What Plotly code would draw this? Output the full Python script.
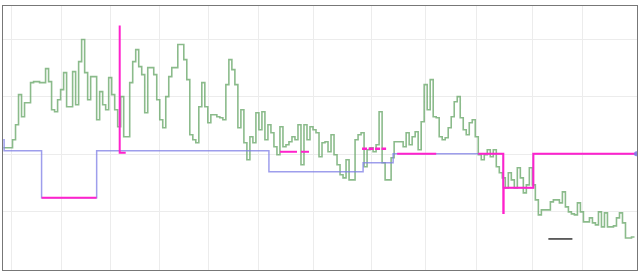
import plotly.graph_objects as go

# Green stepped series (one value per sample index)
green_values = [
    64, 64, 64, 72, 87, 117, 95, 109, 109, 129,
    130, 130, 129, 129, 143, 130, 102, 100, 112, 122,
    139, 105, 105, 140, 107, 150, 172, 139, 112, 135,
    135, 92, 120, 107, 102, 134, 117, 102, 85, 115,
    75, 75, 129, 150, 162, 145, 137, 99, 144, 144,
    137, 112, 92, 84, 115, 135, 144, 144, 167, 167,
    152, 132, 77, 72, 69, 105, 129, 105, 89, 97,
    97, 95, 94, 92, 127, 152, 142, 127, 84, 102,
    69, 52, 75, 69, 99, 82, 100, 72, 87, 79,
    65, 57, 85, 65, 67, 70, 75, 72, 87, 47,
    87, 72, 85, 82, 79, 55, 69, 70, 60, 77,
    57, 47, 37, 34, 52, 32, 32, 72, 77, 79,
    45, 62, 64, 60, 67, 100, 49, 32, 32, 54,
    70, 70, 70, 65, 79, 67, 75, 80, 62, 90,
    127, 102, 132, 95, 94, 75, 72, 74, 84, 95,
    110, 115, 94, 82, 77, 89, 92, 75, 57, 52,
    57, 62, 55, 62, 45, 39, 34, 24, 39, 32,
    24, 44, 34, 19, 27, 44, 27, 12, -3, 2,
    2, 2, 10, 12, 12, 9, 20, 5, 0, -2,
    -3, 9, 0, -10, -10, -6, -11, -13, 0, -15,
    -1, -15, -15, -14, -6, -1, -11, -26, -26, -25,
    -25,
]
green_x = list(range(len(green_values)))

# Blue level line (step breakpoints)
blue_x = [-0.1, 0.2, 12.67, 31.0, 88.33, 119.67, 129.67, 166.33, 176.33, 210.67]
blue_values = [72, 61, 14, 61, 40, 49, 58, 24, 58, 58]

# Magenta highlighted segments (None separates segments)
magenta_x = [12.67, 31.0, None,
             38.67, 38.67, 40.67, None,
             92.0, 97.67, None,
             99.0, 101.67, None,
             131.0, 144.0, None,
             158.0, 166.33, 166.45, 176.33, 210.67]
magenta_values = [14, 14, None,
                  186, 59, 59, None,
                  60, 60, None,
                  60, 60, None,
                  58, 58, None,
                  58, -1, 24, 58, 58]

# Dotted magenta segment
magenta_dot_x = [119.33, 127.33]
magenta_dot_values = [63, 63]

# Short dark reference segment
black_x = [181.33, 189.33]
black_values = [-27, -27]

x_grid = [2.67, 19.33, 35.67, 52.0, 68.33, 85.0, 103.33, 122.33, 140.5, 157.33, 176.0, 192.67]
y_grid = [0, 57.5, 115, 172.5]

fig = go.Figure()
fig.add_trace(go.Scatter(
    x=green_x, y=green_values, mode="lines", line_shape="hv",
    line=dict(color="rgba(110,170,110,0.8)", width=1.6), hoverinfo="skip"))
fig.add_trace(go.Scatter(
    x=blue_x, y=blue_values, mode="lines", line_shape="hv",
    line=dict(color="rgba(125,125,230,0.75)", width=1.5), hoverinfo="skip"))
fig.add_trace(go.Scatter(
    x=magenta_x, y=magenta_values, mode="lines", line_shape="hv",
    connectgaps=False,
    line=dict(color="#ff22cc", width=2), hoverinfo="skip"))
fig.add_trace(go.Scatter(
    x=magenta_dot_x, y=magenta_dot_values, mode="lines",
    line=dict(color="#ff22cc", width=2.5, dash="5px,1.5px"), hoverinfo="skip"))
fig.add_trace(go.Scatter(
    x=[blue_x[-1]], y=[blue_values[-1]], mode="markers",
    marker=dict(color="rgba(125,125,230,0.9)", size=5), hoverinfo="skip"))
fig.add_trace(go.Scatter(
    x=black_x, y=black_values, mode="lines",
    line=dict(color="#333333", width=1.5), hoverinfo="skip"))

fig.update_layout(
    width=641, height=273,
    margin=dict(l=3, r=4, t=6, b=3),
    paper_bgcolor="white", plot_bgcolor="white",
    showlegend=False,
)
fig.update_xaxes(
    range=[-0.17, 210.83], tickmode="array", tickvals=x_grid,
    showticklabels=False, ticks="", showgrid=True, gridcolor="#ececec", gridwidth=1,
    zeroline=False, showline=True, mirror=True, linecolor="#777777", linewidth=1.2)
fig.update_yaxes(
    range=[-58, 205.5], tickmode="array", tickvals=y_grid,
    showticklabels=False, ticks="", showgrid=True, gridcolor="#ececec", gridwidth=1,
    zeroline=False, showline=True, mirror=True, linecolor="#777777", linewidth=1.2)

fig.write_html("out.html")
